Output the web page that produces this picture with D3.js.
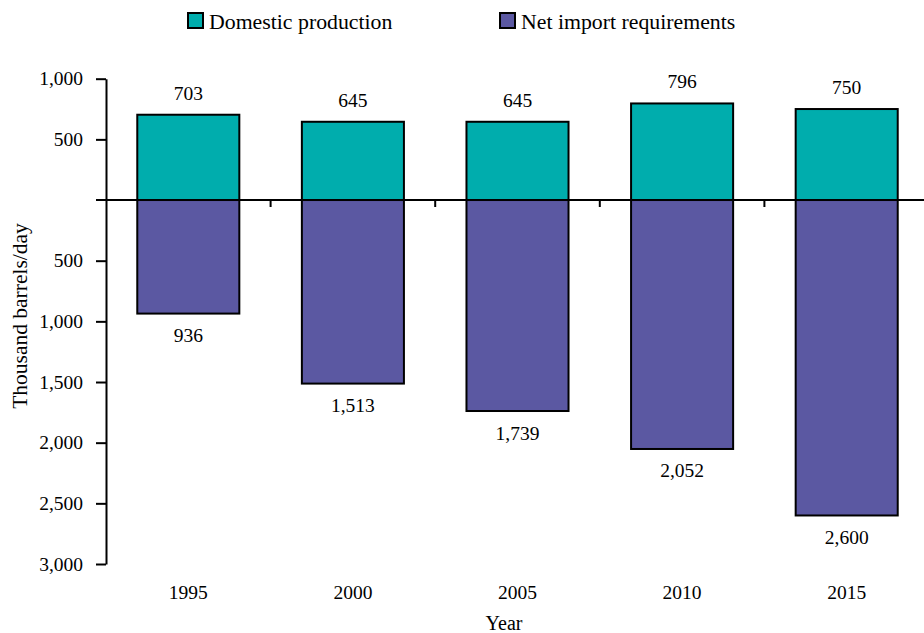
<!DOCTYPE html>
<html>
<head>
<meta charset="utf-8">
<script src="https://cdn.jsdelivr.net/npm/d3@7"></script>
<style>
  html, body { margin: 0; padding: 0; background: #fff; }
  svg { display: block; }
  text { font-family: "Liberation Serif", "Times New Roman", serif; fill: #000; }
</style>
</head>
<body>
<svg id="chart" width="924" height="633"></svg>
<script>
// ---- data ----
const years = ["1995", "2000", "2005", "2010", "2015"];
const domesticProduction = [703, 645, 645, 796, 750];
const netImportRequirements = [936, 1513, 1739, 2052, 2600];
const yTickValues = [1000, 500, -500, -1000, -1500, -2000, -2500, -3000];
const seriesNames = ["Domestic production", "Net import requirements"];
const seriesColors = ["#00ADAD", "#5B58A2"];
const xTitle = "Year";
const yTitle = "Thousand barrels/day";

// ---- layout ----
const svg = d3.select("#chart");
const axisX = 106;
const yTop = 78.7, yBottom = 564;
const step = 164.6;
const x = d3.scaleBand()
  .domain(years)
  .range([axisX, axisX + step * years.length])
  .paddingInner(0.38)
  .paddingOuter(0.19);
const y = d3.scaleLinear().domain([-3000, 1000]).range([yBottom, yTop]);
const fmt = d3.format(",");

// bars: domestic (positive)
svg.append("g").selectAll("rect")
  .data(years.map((yr, i) => ({ yr, v: domesticProduction[i] })))
  .join("rect")
  .attr("x", d => x(d.yr))
  .attr("width", x.bandwidth())
  .attr("y", d => y(d.v))
  .attr("height", d => y(0) - y(d.v))
  .attr("fill", seriesColors[0])
  .attr("stroke", "#000")
  .attr("stroke-width", 2);

// bars: imports (negative)
svg.append("g").selectAll("rect")
  .data(years.map((yr, i) => ({ yr, v: netImportRequirements[i] })))
  .join("rect")
  .attr("x", d => x(d.yr))
  .attr("width", x.bandwidth())
  .attr("y", y(0))
  .attr("height", d => y(-d.v) - y(0))
  .attr("fill", seriesColors[1])
  .attr("stroke", "#000")
  .attr("stroke-width", 2);

// y axis
const yAxis = d3.axisLeft(y)
  .tickValues(yTickValues)
  .tickFormat(d => fmt(Math.abs(d)))
  .tickSize(10)
  .tickSizeOuter(0)
  .tickPadding(13);
const gy = svg.append("g").attr("transform", `translate(${axisX},0)`).call(yAxis);
gy.select(".domain").attr("stroke", "#000").attr("stroke-width", 2);
gy.selectAll(".tick line").attr("stroke", "#000").attr("stroke-width", 2);
gy.selectAll(".tick text").style("font-family", '"Liberation Serif", serif').style("font-size", "19.5px").attr("fill", "#000");

// zero line
svg.append("line")
  .attr("x1", axisX - 10).attr("x2", axisX + step * years.length)
  .attr("y1", y(0)).attr("y2", y(0))
  .attr("stroke", "#000").attr("stroke-width", 2);

// category divider ticks (below zero line)
svg.append("g").selectAll("line")
  .data(years.slice(1))
  .join("line")
  .attr("x1", d => x(d) - x.step() * x.paddingOuter())
  .attr("x2", d => x(d) - x.step() * x.paddingOuter())
  .attr("y1", y(0)).attr("y2", y(0) + 7)
  .attr("stroke", "#000").attr("stroke-width", 2);

// x category labels
const xAxis = d3.axisBottom(x).tickSize(0).tickPadding(21);
const gx = svg.append("g").attr("transform", `translate(0,${yBottom})`).call(xAxis);
gx.select(".domain").remove();
gx.selectAll(".tick text").style("font-family", '"Liberation Serif", serif').style("font-size", "19.5px").attr("fill", "#000");

// value labels
svg.append("g").selectAll("text")
  .data(years.map((yr, i) => ({ yr, v: domesticProduction[i] })))
  .join("text")
  .attr("x", d => x(d.yr) + x.bandwidth() / 2)
  .attr("y", d => y(d.v) - 15)
  .attr("text-anchor", "middle")
  .style("font-size", "19.5px")
  .text(d => fmt(d.v));

svg.append("g").selectAll("text")
  .data(years.map((yr, i) => ({ yr, v: netImportRequirements[i] })))
  .join("text")
  .attr("x", d => x(d.yr) + x.bandwidth() / 2)
  .attr("y", d => y(-d.v) + 28.5)
  .attr("text-anchor", "middle")
  .style("font-size", "19.5px")
  .text(d => fmt(d.v));

// axis titles
svg.append("text")
  .attr("x", 504).attr("y", 630)
  .attr("text-anchor", "middle")
  .style("font-size", "20px")
  .text(xTitle);

svg.append("text")
  .attr("transform", "translate(27,316) rotate(-90)")
  .attr("text-anchor", "middle")
  .style("font-size", "21.5px")
  .text(yTitle);

// legend
const legendX = [188, 500];
const lg = svg.append("g").selectAll("g")
  .data(seriesNames)
  .join("g")
  .attr("transform", (d, i) => `translate(${legendX[i]},13)`);
lg.append("rect")
  .attr("width", 15).attr("height", 15)
  .attr("fill", (d, i) => seriesColors[i])
  .attr("stroke", "#000").attr("stroke-width", 2);
lg.append("text")
  .attr("x", 21).attr("y", 15.5)
  .style("font-size", "21.8px")
  .text(d => d);
</script>
</body>
</html>
